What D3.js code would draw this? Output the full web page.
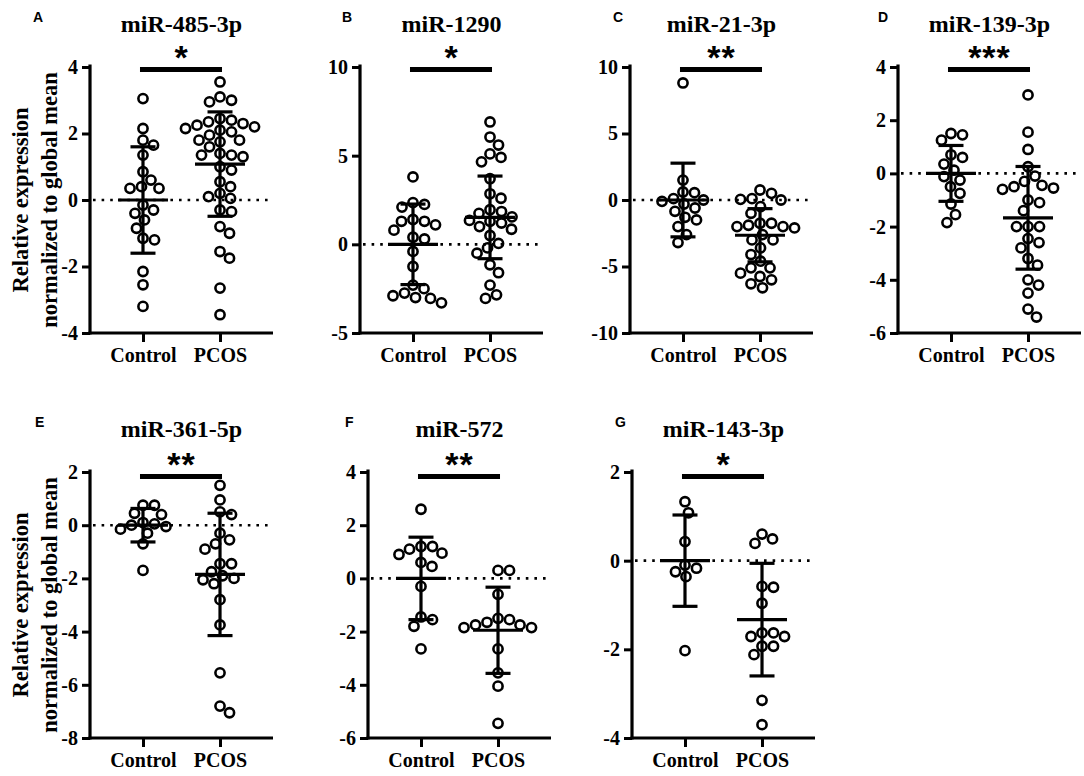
<!DOCTYPE html>
<html><head><meta charset="utf-8">
<script src="https://cdn.jsdelivr.net/npm/d3@7/dist/d3.min.js"></script>
<style>body{margin:0;background:#fff}svg{display:block}</style>
</head><body>
<svg id="chart" width="1084" height="776"></svg>
<script>
// ---------- data ----------
const panelLetters = ["A","B","C","D","E","F","G"];
const titles = ["miR-485-3p","miR-1290","miR-21-3p","miR-139-3p","miR-361-5p","miR-572","miR-143-3p"];
const significance = ["*","*","**","***","**","**","*"];
const groups = ["Control","PCOS"];
const yDomains = [[-4,4],[-5,10],[-10,10],[-6,4],[-8,2],[-6,4],[-4,2]];
const yTickValues = [[-4,-2,0,2,4],[-5,0,5,10],[-10,-5,0,5,10],[-6,-4,-2,0,2,4],[-8,-6,-4,-2,0,2],[-6,-4,-2,0,2,4],[-4,-2,0,2]];
const yLabelLines = ["Relative expression","normalized to global mean"];

const controlValues = [
  [3.05,2.15,1.8,1.65,1.35,0.85,0.6,0.35,0.35,0.4,-0.15,-0.3,-0.4,-0.6,-0.85,-1.15,-1.2,-2.15,-2.55,-3.2],
  [3.8,2.35,2.25,2.1,1.4,1.3,1.3,1.1,0.8,0.4,0.3,-0.4,-1.25,-2.3,-2.5,-2.75,-2.9,-3.0,-3.05,-3.3],
  [8.8,1.5,0.6,0.55,0.1,0.0,-0.1,-0.3,-0.6,-0.85,-1.3,-1.5,-2.0,-2.6,-3.2],
  [1.5,1.45,1.25,0.7,0.6,0.35,0.12,-0.12,-0.25,-0.5,-0.75,-1.15,-1.55,-1.85],
  [0.75,0.75,0.45,0.4,0.1,0.05,0.0,-0.05,-0.15,-0.3,-0.7,-1.7],
  [2.6,1.2,1.2,1.1,0.95,0.9,0.6,0.45,-0.3,-1.45,-1.55,-1.8,-2.65],
  [1.33,1.08,0.43,-0.1,-0.17,-0.25,-0.36,-2.03]
];
const pcosValues = [
  [3.55,3.1,3.0,2.95,2.45,2.4,2.35,2.3,2.25,2.2,2.15,2.1,2.05,1.95,1.8,1.8,1.75,1.6,1.4,1.35,1.35,1.3,1.0,0.9,0.55,0.4,0.2,0.1,0.05,-0.3,-0.35,-0.8,-1.0,-1.55,-1.75,-2.65,-3.45],
  [6.9,6.05,5.6,5.1,4.9,4.65,3.7,2.85,2.6,1.95,1.85,1.75,1.55,1.35,1.3,1.2,1.0,0.85,0.5,0.05,-0.2,-0.5,-1.15,-1.6,-2.3,-2.85,-3.05],
  [0.75,0.5,0.1,0.05,0.0,-0.5,-1.0,-1.75,-1.75,-1.9,-2.0,-2.0,-2.1,-2.6,-3.0,-3.0,-3.6,-4.1,-4.6,-5.1,-5.1,-5.5,-5.75,-6.0,-6.3,-6.6],
  [2.95,1.55,0.9,0.25,-0.1,-0.3,-0.45,-0.5,-0.55,-0.6,-1.0,-1.1,-1.4,-2.0,-2.0,-2.0,-2.45,-2.6,-2.8,-3.2,-3.45,-4.0,-4.2,-4.5,-5.1,-5.4],
  [1.5,0.95,0.5,0.4,-0.3,-0.55,-0.7,-0.9,-1.45,-1.45,-1.75,-1.9,-2.0,-2.05,-2.2,-2.8,-3.75,-5.55,-6.8,-7.05],
  [0.3,0.3,-0.6,-1.5,-1.55,-1.65,-1.75,-1.75,-1.85,-1.85,-2.65,-3.55,-4.05,-5.45],
  [0.6,0.49,0.39,-0.58,-0.6,-0.96,-1.63,-1.63,-1.71,-1.71,-1.93,-1.93,-2.12,-3.15,-3.7]
];
const groupMeans = [[0,1.08],[0,1.52],[0,-2.65],[0,-1.67],[0,-1.85],[0,-1.95],[0,-1.33]];
const groupSDs   = [[1.6,1.57],[2.27,2.33],[2.77,2.0],[1.05,1.93],[0.63,2.3],[1.55,1.62],[1.03,1.27]];

// ---------- layout ----------
const svg = d3.select("#chart");
const W = 183;
const rowTop = [67, 472], rowBottom = [333, 738];
const axisX = [90,360,630,898,90,368,632];
const rowOf = [0,0,0,0,1,1,1];
const letterX = [33,342,613,878,35,345,615];
const serif = "'Liberation Serif','Times New Roman',serif";
const sans = "'Liberation Sans',Arial,sans-serif";
const R = 4.6, SW = 2.6, MIND = 11.5;

function swarm(vals, y, cx) {
  const pts = vals.map(v => ({v, y: y(v)})).sort((a,b) => a.y - b.y);
  const placed = [];
  for (const p of pts) {
    let off = 0;
    for (let k = 0; k < 400; k++) {
      const o = (k % 2 === 1 ? 1 : -1) * Math.ceil(k/2) * 0.5;
      const ok = placed.every(q => (q.x - o)**2 + (q.y - p.y)**2 >= MIND*MIND);
      if (ok) { off = o; break; }
    }
    p.x = off; placed.push(p);
  }
  return pts.map(p => ({v: p.v, x: cx + p.x, y: p.y}));
}

function styleText(sel, size, fam) {
  sel.style("font-family", fam).style("font-weight", "bold").style("font-size", size + "px").style("fill", "#000");
}

panelLetters.forEach((L, i) => {
  const r = rowOf[i];
  const x0 = axisX[i];
  const g = svg.append("g").attr("transform", `translate(${x0},0)`);
  const y = d3.scaleLinear().domain(yDomains[i]).range([rowBottom[r], rowTop[r]]);
  const x = d3.scalePoint().domain(groups).range([0, W]).padding(0.688);

  // zero dotted line
  g.append("line").attr("x1", 3).attr("x2", W).attr("y1", y(0)).attr("y2", y(0))
    .attr("stroke", "#000").attr("stroke-width", 2.6).attr("stroke-dasharray", "2.6,6");

  // points
  [controlValues[i], pcosValues[i]].forEach((vals, gi) => {
    const pts = swarm(vals, y, x(groups[gi]));
    g.selectAll(null).data(pts).enter().append("circle")
      .attr("cx", d => d.x).attr("cy", d => d.y).attr("r", R)
      .attr("fill", "none").attr("stroke", "#000").attr("stroke-width", SW);
    // mean & SD
    const m = groupMeans[i][gi], s = groupSDs[i][gi], cx = x(groups[gi]);
    const eb = g.append("g").attr("stroke", "#000").attr("stroke-width", 3.2);
    eb.append("line").attr("x1", cx).attr("x2", cx).attr("y1", y(m + s)).attr("y2", y(m - s));
    eb.append("line").attr("x1", cx - 25).attr("x2", cx + 25).attr("y1", y(m)).attr("y2", y(m));
    eb.append("line").attr("x1", cx - 12.5).attr("x2", cx + 12.5).attr("y1", y(m + s)).attr("y2", y(m + s));
    eb.append("line").attr("x1", cx - 12.5).attr("x2", cx + 12.5).attr("y1", y(m - s)).attr("y2", y(m - s));
  });

  // y axis
  const ya = g.append("g").call(d3.axisLeft(y).tickValues(yTickValues[i]).tickFormat(d => String(d))
    .tickSize(8).tickPadding(4).tickSizeOuter(0));
  ya.select(".domain").attr("stroke-width", 3.2).attr("d", `M0,${rowBottom[r]+1.5}V${rowTop[r]-2.5}`);
  ya.selectAll(".tick line").attr("stroke-width", 3);
  styleText(ya.selectAll(".tick text"), 20, serif);

  // x axis
  const xa = g.append("g").attr("transform", `translate(0,${rowBottom[r]})`)
    .call(d3.axisBottom(x).tickSize(9).tickPadding(6).tickSizeOuter(0));
  xa.select(".domain").attr("stroke-width", 3.2).attr("d", `M-1.5,0H${W}`);
  xa.selectAll(".tick line").attr("stroke-width", 3);
  styleText(xa.selectAll(".tick text"), 20, serif);

  // title
  styleText(g.append("text").attr("x", W/2).attr("y", rowTop[r] - 35).attr("text-anchor", "middle")
    .text(titles[i]), 24, serif);

  // significance bar
  const by = rowTop[r] + (r === 0 ? 2.5 : 4.5);
  g.append("line").attr("x1", x("Control") - 3).attr("x2", x("PCOS") + 2).attr("y1", by).attr("y2", by)
    .attr("stroke", "#000").attr("stroke-width", 4.8);
  styleText(g.append("text").attr("x", (x("Control") + x("PCOS")) / 2).attr("y", by - 1)
    .attr("text-anchor", "middle").attr("letter-spacing", 1).text(significance[i]), 34, sans);

  // panel letter
  styleText(svg.append("text").attr("x", letterX[i]).attr("y", rowTop[r] - 45).text(L), 14, sans);
});

// y labels
[0, 1].forEach(r => {
  const mid = (rowTop[r] + rowBottom[r]) / 2;
  yLabelLines.forEach((t, li) => {
    styleText(svg.append("text").attr("transform", `translate(${28 + li*29},${mid}) rotate(-90)`)
      .attr("text-anchor", "middle").text(t), 22.5, serif);
  });
});
</script>
</body></html>
